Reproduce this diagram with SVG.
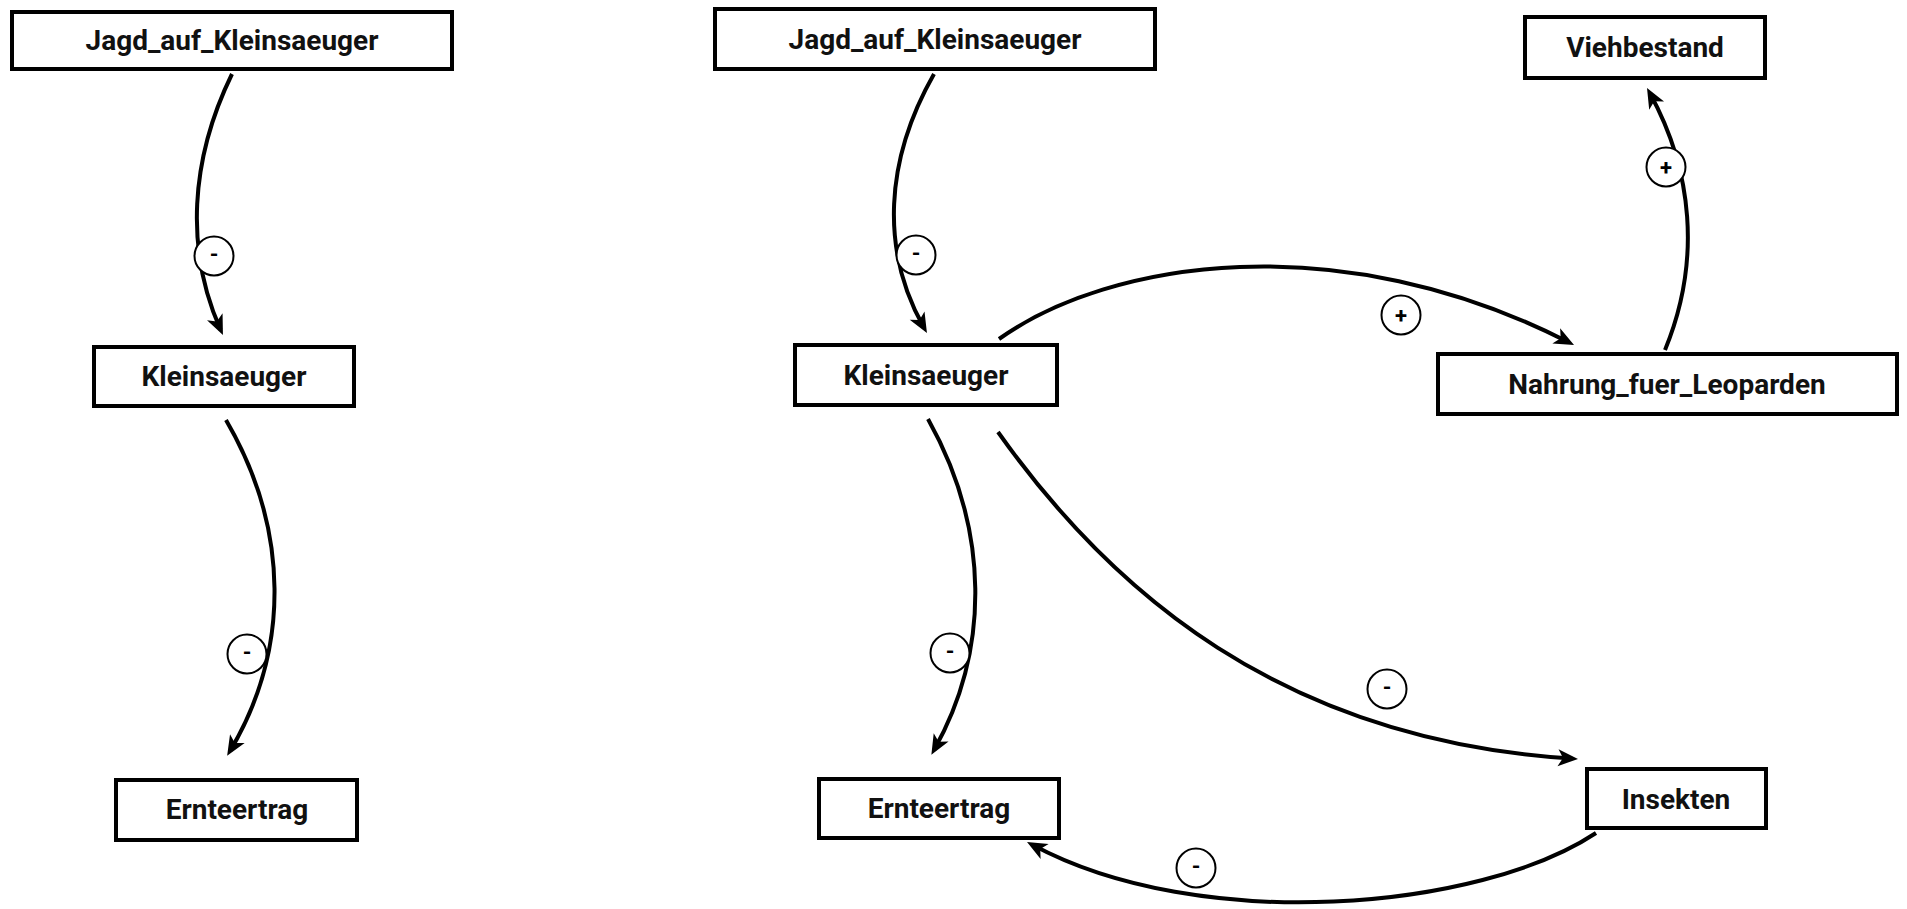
<svg xmlns="http://www.w3.org/2000/svg" width="1907" height="909" viewBox="0 0 1907 909">
  <defs>
    <!-- solid arrowhead with a notched back; tip sits 6px past the path end -->
    <marker id="arrow" markerUnits="userSpaceOnUse" markerWidth="24" markerHeight="20" viewBox="0 -10 24 20" refX="14" refY="0" orient="auto" overflow="visible">
      <path d="M20,0 L0,-8.5 L5,0 L0,8.5 Z" fill="#000"/>
    </marker>
    <style>
      .box { fill: #fff; stroke: #000; stroke-width: 4; }
      .name { font-family: Roboto, "Liberation Sans", sans-serif; font-weight: 700; font-size: 28px; fill: #111; text-anchor: middle; }
      .edge { fill: none; stroke: #000; stroke-width: 4; marker-end: url(#arrow); }
      .pol { fill: #fff; stroke: #000; stroke-width: 2; }
      .sign { font-family: Roboto, "Liberation Sans", sans-serif; font-weight: 700; font-size: 22px; fill: #000; text-anchor: middle; }
    </style>
  </defs>

  <rect width="1907" height="909" fill="#fff"/>

  <!-- causal links with polarity markers -->
  <g id="connectors">
    <path class="edge" d="M232,74 C190,160 185,250 220.5,329.6"/>
    <path class="edge" d="M226,420 C290,530 290,650 230.2,750.7"/>
    <path class="edge" d="M934,74 C885,160 880,250 924,327.8"/>
    <path class="edge" d="M928,419 C990,530 990,650 934.3,749.6"/>
    <path class="edge" d="M999,339 C1110,260 1340,225 1568.7,342.3"/>
    <path class="edge" d="M1665,350 C1702,260 1692,170 1649.9,93.3"/>
    <path class="edge" d="M998,432 C1110,590 1280,740 1572,758.6"/>
    <path class="edge" d="M1596,833 C1480,910 1200,935 1032.3,844.8"/>

    <g id="pol-1"><circle class="pol" cx="214" cy="256" r="19.5"/><text class="sign" x="214" y="262">-</text></g>
    <g id="pol-2"><circle class="pol" cx="247" cy="654" r="19.5"/><text class="sign" x="247" y="660">-</text></g>
    <g id="pol-3"><circle class="pol" cx="916" cy="255" r="19.5"/><text class="sign" x="916" y="261">-</text></g>
    <g id="pol-4"><circle class="pol" cx="950" cy="653" r="19.5"/><text class="sign" x="950" y="659">-</text></g>
    <g id="pol-5"><circle class="pol" cx="1401" cy="315" r="19.5"/><text class="sign" x="1401" y="322.5">+</text></g>
    <g id="pol-6"><circle class="pol" cx="1666" cy="167" r="19.5"/><text class="sign" x="1666" y="174.5">+</text></g>
    <g id="pol-7"><circle class="pol" cx="1387" cy="689" r="19.5"/><text class="sign" x="1387" y="695">-</text></g>
    <g id="pol-8"><circle class="pol" cx="1196" cy="868" r="19.5"/><text class="sign" x="1196" y="874">-</text></g>
  </g>

  <!-- left model -->
  <g id="jagd-left"><rect class="box" x="12" y="12" width="440" height="57"/><text class="name" x="232" y="50">Jagd_auf_Kleinsaeuger</text></g>
  <g id="klein-left"><rect class="box" x="94" y="347" width="260" height="59"/><text class="name" x="224" y="386">Kleinsaeuger</text></g>
  <g id="ernte-left"><rect class="box" x="116" y="780" width="241" height="60"/><text class="name" x="237" y="819">Ernteertrag</text></g>

  <!-- right model -->
  <g id="jagd-right"><rect class="box" x="715" y="9" width="440" height="60"/><text class="name" x="935" y="49">Jagd_auf_Kleinsaeuger</text></g>
  <g id="klein-right"><rect class="box" x="795" y="345" width="262" height="60"/><text class="name" x="926" y="385">Kleinsaeuger</text></g>
  <g id="ernte-right"><rect class="box" x="819" y="779" width="240" height="59"/><text class="name" x="939" y="818">Ernteertrag</text></g>
  <g id="vieh"><rect class="box" x="1525" y="17" width="240" height="61"/><text class="name" x="1645" y="57">Viehbestand</text></g>
  <g id="nahrung"><rect class="box" x="1438" y="354" width="459" height="60"/><text class="name" x="1667" y="394">Nahrung_fuer_Leoparden</text></g>
  <g id="insekten"><rect class="box" x="1587" y="769" width="179" height="59"/><text class="name" x="1676" y="809">Insekten</text></g>
</svg>
